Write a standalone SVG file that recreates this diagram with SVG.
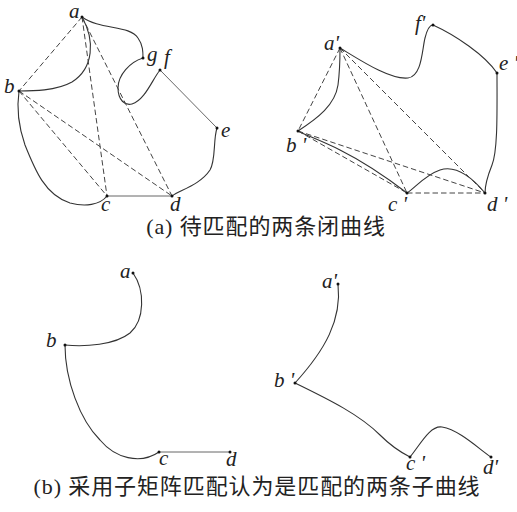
<svg xmlns="http://www.w3.org/2000/svg" width="517" height="512" viewBox="0 0 517 512">
<style>
.c{fill:none;stroke:#333;stroke-width:1.1}
.s{fill:none;stroke:#555;stroke-width:0.9}
.d{fill:none;stroke:#444;stroke-width:1;stroke-dasharray:5.5 3}
.p{fill:#111}
.l{font-family:"Liberation Serif",serif;font-style:italic;font-size:21px;fill:#222}
.cap{font-family:"Liberation Serif","Noto Sans CJK SC",serif;font-size:22px;fill:#222;letter-spacing:0.9px}
</style>
<rect width="517" height="512" fill="#fff"/>
<g id="connectors">
<path class="c" d="M82,17 C95,40 94,68 72,82 C56,91 32,91 19,91"/>
<path class="c" d="M82,17 C100,30 130,25 138,38 C143,45 143,52 143,58"/>
<path class="c" d="M143,58 C130,62 118,75 118,88 C118,100 125,106 132,104 C145,100 152,80 160,70"/>
<path class="s" d="M160,70 L217,128"/>
<path class="c" d="M217,128 C213,140 216,160 210,170 C200,185 180,190 172,196"/>
<path class="s" d="M172,196 L107,196"/>
<path class="c" d="M107,196 C100,205 85,207 70,203 C45,195 35,170 25,145 C18,125 17,105 19,91"/>
<path class="d" d="M82,17 L19,91 M82,17 L107,196 M82,17 L172,196 M19,91 L107,196 M19,91 L172,196"/>
<path class="c" d="M340,48 C360,60 390,80 408,78 C422,76 422,50 425,38 C427,30 430,25 433,25"/>
<path class="c" d="M433,25 C455,35 485,55 497,73"/>
<path class="c" d="M497,73 C497,110 498,150 492,165 C486,180 485,190 485,193"/>
<path class="c" d="M485,193 C470,175 455,165 440,170 C425,175 415,188 407,193"/>
<path class="c" d="M407,193 C390,180 370,165 340,150 C320,140 305,135 298,131"/>
<path class="c" d="M298,131 C318,118 335,105 338,85 C340,70 340,55 340,48"/>
<path class="d" d="M340,48 L298,131 M340,48 L407,193 M340,48 L485,193 M298,131 L407,193 M298,131 L485,193 M407,193 L485,193"/>
<path class="c" d="M133,273 C145,290 145,320 130,333 C115,345 85,347 65,345"/>
<path class="c" d="M65,345 C65,380 80,420 100,440 C115,458 140,465 159,452"/>
<path class="s" d="M159,452 L230,452"/>
<path class="c" d="M338,284 C342,320 325,350 295,383"/>
<path class="c" d="M295,383 C330,400 360,415 380,435 C392,447 400,452 410,457"/>
<path class="c" d="M410,457 C420,445 430,425 442,427 C460,430 480,450 491,457"/>
</g>
<g id="node-a"><circle class="p" cx="82" cy="17" r="1.5"/><text class="l" x="69" y="18">a</text></g>
<g id="node-b"><circle class="p" cx="19" cy="91" r="1.5"/><text class="l" x="4" y="93">b</text></g>
<g id="node-c"><circle class="p" cx="107" cy="196" r="1.5"/><text class="l" x="101" y="211">c</text></g>
<g id="node-d"><circle class="p" cx="172" cy="196" r="1.5"/><text class="l" x="170" y="211">d</text></g>
<g id="node-e"><circle class="p" cx="217" cy="128" r="1.5"/><text class="l" x="221" y="137">e</text></g>
<g id="node-f"><circle class="p" cx="160" cy="70" r="1.5"/><text class="l" x="164" y="64">f</text></g>
<g id="node-g"><circle class="p" cx="143" cy="58" r="1.5"/><text class="l" x="147" y="61">g</text></g>
<g id="node-a2"><circle class="p" cx="340" cy="48" r="1.5"/><text class="l" x="324" y="50">a'</text></g>
<g id="node-b2"><circle class="p" cx="298" cy="131" r="1.5"/><text class="l" x="286" y="152">b '</text></g>
<g id="node-c2"><circle class="p" cx="407" cy="193" r="1.5"/><text class="l" x="388" y="211">c '</text></g>
<g id="node-d2"><circle class="p" cx="485" cy="193" r="1.5"/><text class="l" x="487" y="211">d '</text></g>
<g id="node-e2"><circle class="p" cx="497" cy="73" r="1.5"/><text class="l" x="499" y="70">e '</text></g>
<g id="node-f2"><circle class="p" cx="433" cy="25" r="1.5"/><text class="l" x="415" y="30">f'</text></g>
<g id="sub-a"><circle class="p" cx="133" cy="273" r="1.5"/><text class="l" x="120" y="278">a</text></g>
<g id="sub-b"><circle class="p" cx="65" cy="345" r="1.5"/><text class="l" x="46" y="347">b</text></g>
<g id="sub-c"><circle class="p" cx="159" cy="452" r="1.5"/><text class="l" x="159" y="465">c</text></g>
<g id="sub-d"><circle class="p" cx="230" cy="452" r="1.5"/><text class="l" x="226" y="466">d</text></g>
<g id="sub-a2"><circle class="p" cx="338" cy="284" r="1.5"/><text class="l" x="322" y="288">a'</text></g>
<g id="sub-b2"><circle class="p" cx="295" cy="383" r="1.5"/><text class="l" x="274" y="387">b '</text></g>
<g id="sub-c2"><circle class="p" cx="410" cy="457" r="1.5"/><text class="l" x="406" y="470">c '</text></g>
<g id="sub-d2"><circle class="p" cx="491" cy="457" r="1.5"/><text class="l" x="483" y="474">d'</text></g>
<text class="cap" x="266" y="234" text-anchor="middle">(a) 待匹配的两条闭曲线</text>
<text class="cap" x="257" y="494" text-anchor="middle">(b) 采用子矩阵匹配认为是匹配的两条子曲线</text>
</svg>
